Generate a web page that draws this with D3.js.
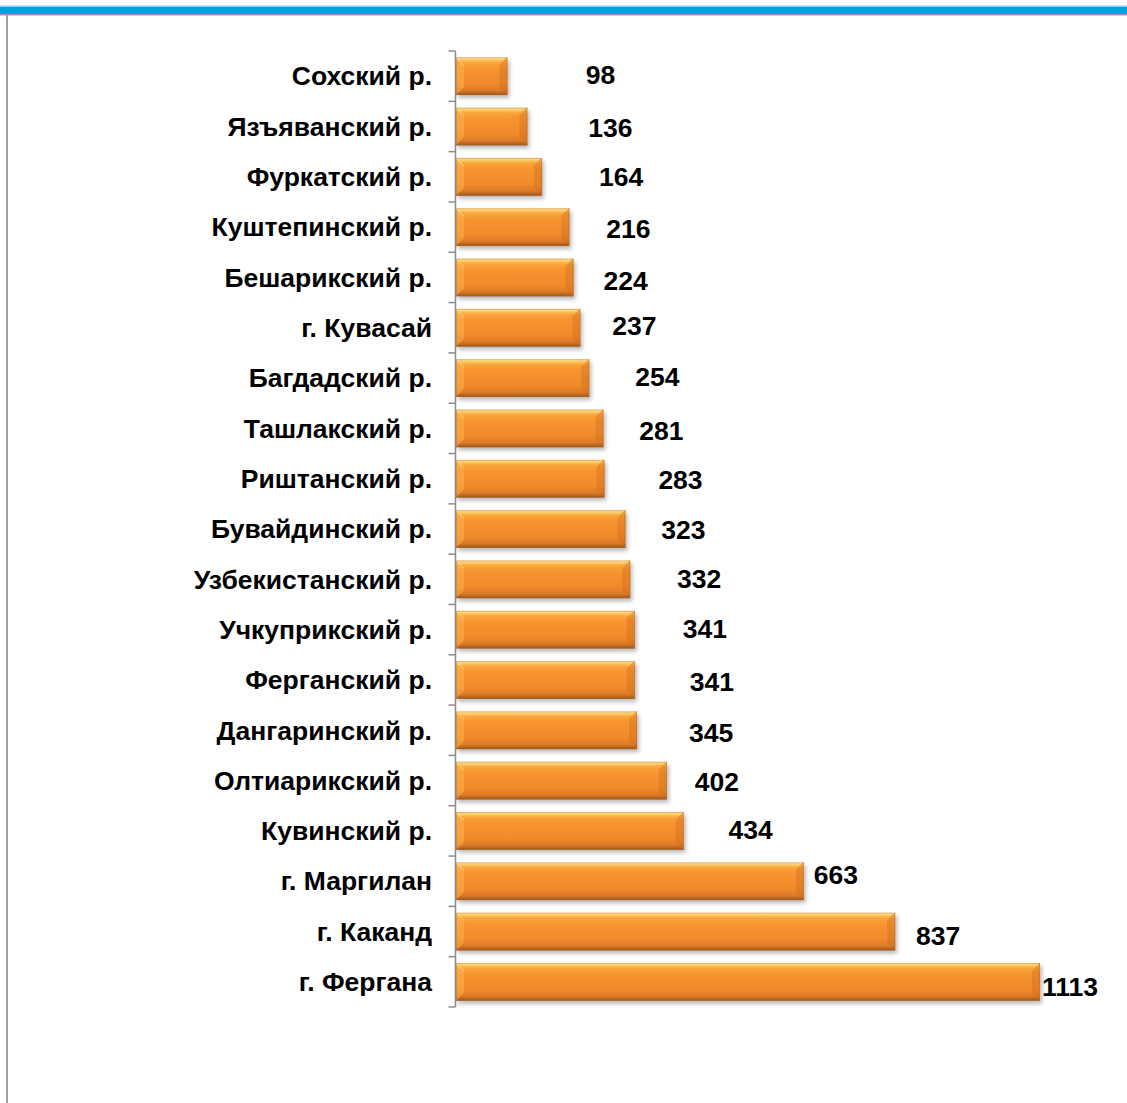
<!DOCTYPE html>
<html><head><meta charset="utf-8">
<script src="https://cdn.jsdelivr.net/npm/d3@7"></script>
<style>html,body{margin:0;padding:0;background:#fff;}svg{display:block;}</style>
</head><body>
<svg id="c" width="1127" height="1103"></svg>
<script>
const categories = ["Сохский р.","Язъяванский р.","Фуркатский р.","Куштепинский р.","Бешарикский р.","г. Кувасай","Багдадский р.","Ташлакский р.","Риштанский р.","Бувайдинский р.","Узбекистанский р.","Учкуприкский р.","Ферганский р.","Дангаринский р.","Олтиарикский р.","Кувинский р.","г. Маргилан","г. Каканд","г. Фергана"];
const values = [98,136,164,216,224,237,254,281,283,323,332,341,341,345,402,434,663,837,1113];
const labelTexts = values.map(String);
// manual nudges of the value labels (px, relative to bar end / bar centre)
const labelDx = [93,83,79,59,52,54,68,58,76,58,69,70,77,74,50,67,32,43,30];
const labelDy = [-1,1,0,2,3,-2,-1,2,1,1,-1,-1,2,2,1,-1,-6,4,5];

const FONT = "'Liberation Sans', Arial, Helvetica, sans-serif";
const svg = d3.select("#c");
const defs = svg.append("defs");
const g1 = defs.append("linearGradient").attr("id","barG").attr("x1",0).attr("y1",0).attr("x2",0).attr("y2",1);
[[0,"#fff0b0"],[0.05,"#fdd273"],[0.14,"#f9a53c"],[0.3,"#f7942f"],[0.7,"#f08a2b"],[0.88,"#dc7a27"],[0.95,"#b8661f"],[1,"#8e4e18"]].forEach(s=>g1.append("stop").attr("offset",s[0]).attr("stop-color",s[1]));
const f = defs.append("filter").attr("id","sh").attr("x","-5%").attr("y","-20%").attr("width","115%").attr("height","160%");
f.append("feGaussianBlur").attr("stdDeviation",2);

// frame
svg.append("rect").attr("x",0).attr("y",5.5).attr("width",1127).attr("height",1.5).attr("fill","#7fd0f2");
svg.append("rect").attr("x",0).attr("y",7).attr("width",1127).attr("height",7).attr("fill","#009fe3");
svg.append("rect").attr("x",0).attr("y",14).attr("width",1127).attr("height",1.5).attr("fill","#9a9a9a");
svg.append("rect").attr("x",6).attr("y",15).attr("width",2).attr("height",1088).attr("fill","#a0a0a0");

const x = d3.scaleLinear().domain([0,1113]).range([456,1040]);
const y = d3.scaleBand().domain(categories).range([51,1007]).paddingInner(0.25).paddingOuter(0.125);
const yb = d3.scaleBand().domain(categories).range([51,1007]);

// axis
const ax = svg.append("g").attr("transform","translate(455.5,0)");
ax.append("line").attr("y1",51).attr("y2",1007).attr("stroke","#8c8c8c").attr("stroke-width",1.5);
const bounds = categories.map(c=>yb(c)).concat([1007]);
ax.selectAll("line.t").data(bounds).join("line").attr("class","t")
  .attr("x1",-7).attr("x2",0).attr("y1",d=>d).attr("y2",d=>d).attr("stroke","#8c8c8c").attr("stroke-width",1.5);

// category labels
svg.append("g").selectAll("text").data(categories).join("text")
  .attr("x",432).attr("y",d=>yb(d)+yb.bandwidth()/2).attr("dy","0.35em")
  .attr("text-anchor","end").style("font-family",FONT)
  .attr("font-weight","bold").attr("font-size",26.5).attr("fill","#000").text(d=>d);

// bars
const bars = svg.append("g").selectAll("g").data(values).join("g");
bars.append("rect").attr("x",x(0)+2).attr("y",(d,i)=>y(categories[i])+3)
  .attr("width",d=>x(d)-x(0)).attr("height",y.bandwidth()).attr("fill","#000").attr("opacity",0.28).attr("filter","url(#sh)");
bars.append("rect").attr("x",x(0)).attr("y",(d,i)=>y(categories[i]))
  .attr("width",d=>x(d)-x(0)).attr("height",y.bandwidth()).attr("fill","url(#barG)");
const bv = 8;
bars.each(function(d,i){
  const g = d3.select(this);
  const x0=x(0), x1=x(d), y0=y(categories[i]), y1=y0+y.bandwidth();
  const b = Math.min(bv,(x1-x0)/2);
  g.append("polygon").attr("points",[[x0,y0],[x0+b,y0+b],[x0+b,y1-b],[x0,y1]].join(" ")).attr("fill","#fcb454").attr("opacity",0.5);
  g.append("polygon").attr("points",[[x1,y0],[x1-b,y0+b],[x1-b,y1-b],[x1,y1]].join(" ")).attr("fill","#c8691c").attr("opacity",0.35);
  g.append("line").attr("x1",x0).attr("y1",y0).attr("x2",x0+b).attr("y2",y0+b).attr("stroke","#ffe9a8").attr("stroke-width",1).attr("opacity",0.7);
  g.append("line").attr("x1",x1).attr("y1",y0).attr("x2",x1-b).attr("y2",y0+b).attr("stroke","#e8882c").attr("stroke-width",1).attr("opacity",0.7);
  g.append("rect").attr("x",x0+0.5).attr("y",y0+0.5).attr("width",x1-x0-1).attr("height",y1-y0-1).attr("fill","none").attr("stroke","#c06a22").attr("stroke-width",1).attr("opacity",0.45);
});

// value labels
svg.append("g").selectAll("text").data(values).join("text")
  .attr("x",(d,i)=>x(d)+labelDx[i]).attr("y",(d,i)=>yb(categories[i])+yb.bandwidth()/2+labelDy[i]).attr("dy","0.35em")
  .attr("text-anchor","middle").style("font-family",FONT)
  .attr("font-weight","bold").attr("font-size",26.5).attr("fill","#000").text((d,i)=>labelTexts[i]);
</script>
</body></html>
